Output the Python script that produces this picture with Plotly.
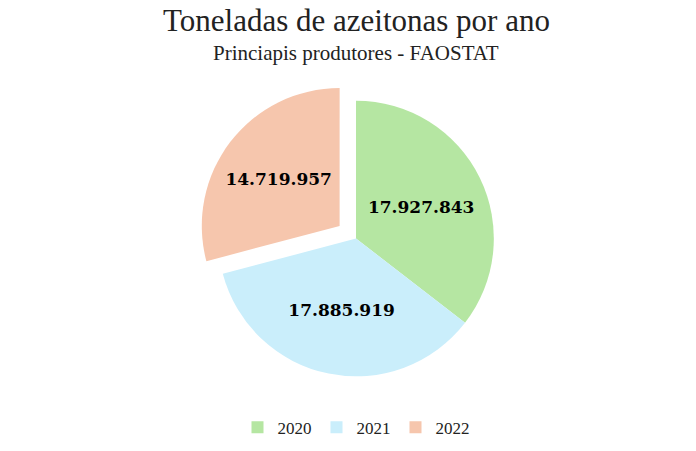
import plotly.graph_objects as go

years = ["2020", "2021", "2022"]
values = [17927843, 17885919, 14719957]
labels_txt = ["17.927.843", "17.885.919", "14.719.957"]
colors = ["#b5e6a2", "#caeefb", "#f6c6ad"]

fig = go.Figure(go.Pie(
    labels=years, values=values, text=labels_txt, textinfo="text",
    sort=False, direction="clockwise", rotation=0,
    pull=[0, 0, 0.15],
    domain=dict(x=[0, 1], y=[0, 1]),
    marker=dict(colors=colors, line=dict(color="white", width=0)),
    textfont=dict(family="DejaVu Serif", size=17, color="black", weight="bold"),
    insidetextorientation="horizontal",
))
fig.update_layout(
    width=696, height=451,
    paper_bgcolor="white",
    margin=dict(t=72, b=62, l=20, r=20),
    annotations=[
        dict(text="Toneladas de azeitonas por ano", xref="paper", yref="paper",
             x=0.5, y=1.0, yshift=60, xanchor="center", yanchor="middle", showarrow=False,
             font=dict(family="Liberation Serif", size=31, color="#222")),
        dict(text="Princiapis produtores - FAOSTAT", xref="paper", yref="paper",
             x=0.5, y=1.0, yshift=27, xanchor="center", yanchor="middle", showarrow=False,
             font=dict(family="Liberation Serif", size=21, color="#222")),
    ],
    legend=dict(orientation="h", x=0.5, xanchor="center", y=-0.04, yanchor="top",
                font=dict(family="Liberation Serif", size=17, color="#222")),
)
fig.write_html("out.html")
